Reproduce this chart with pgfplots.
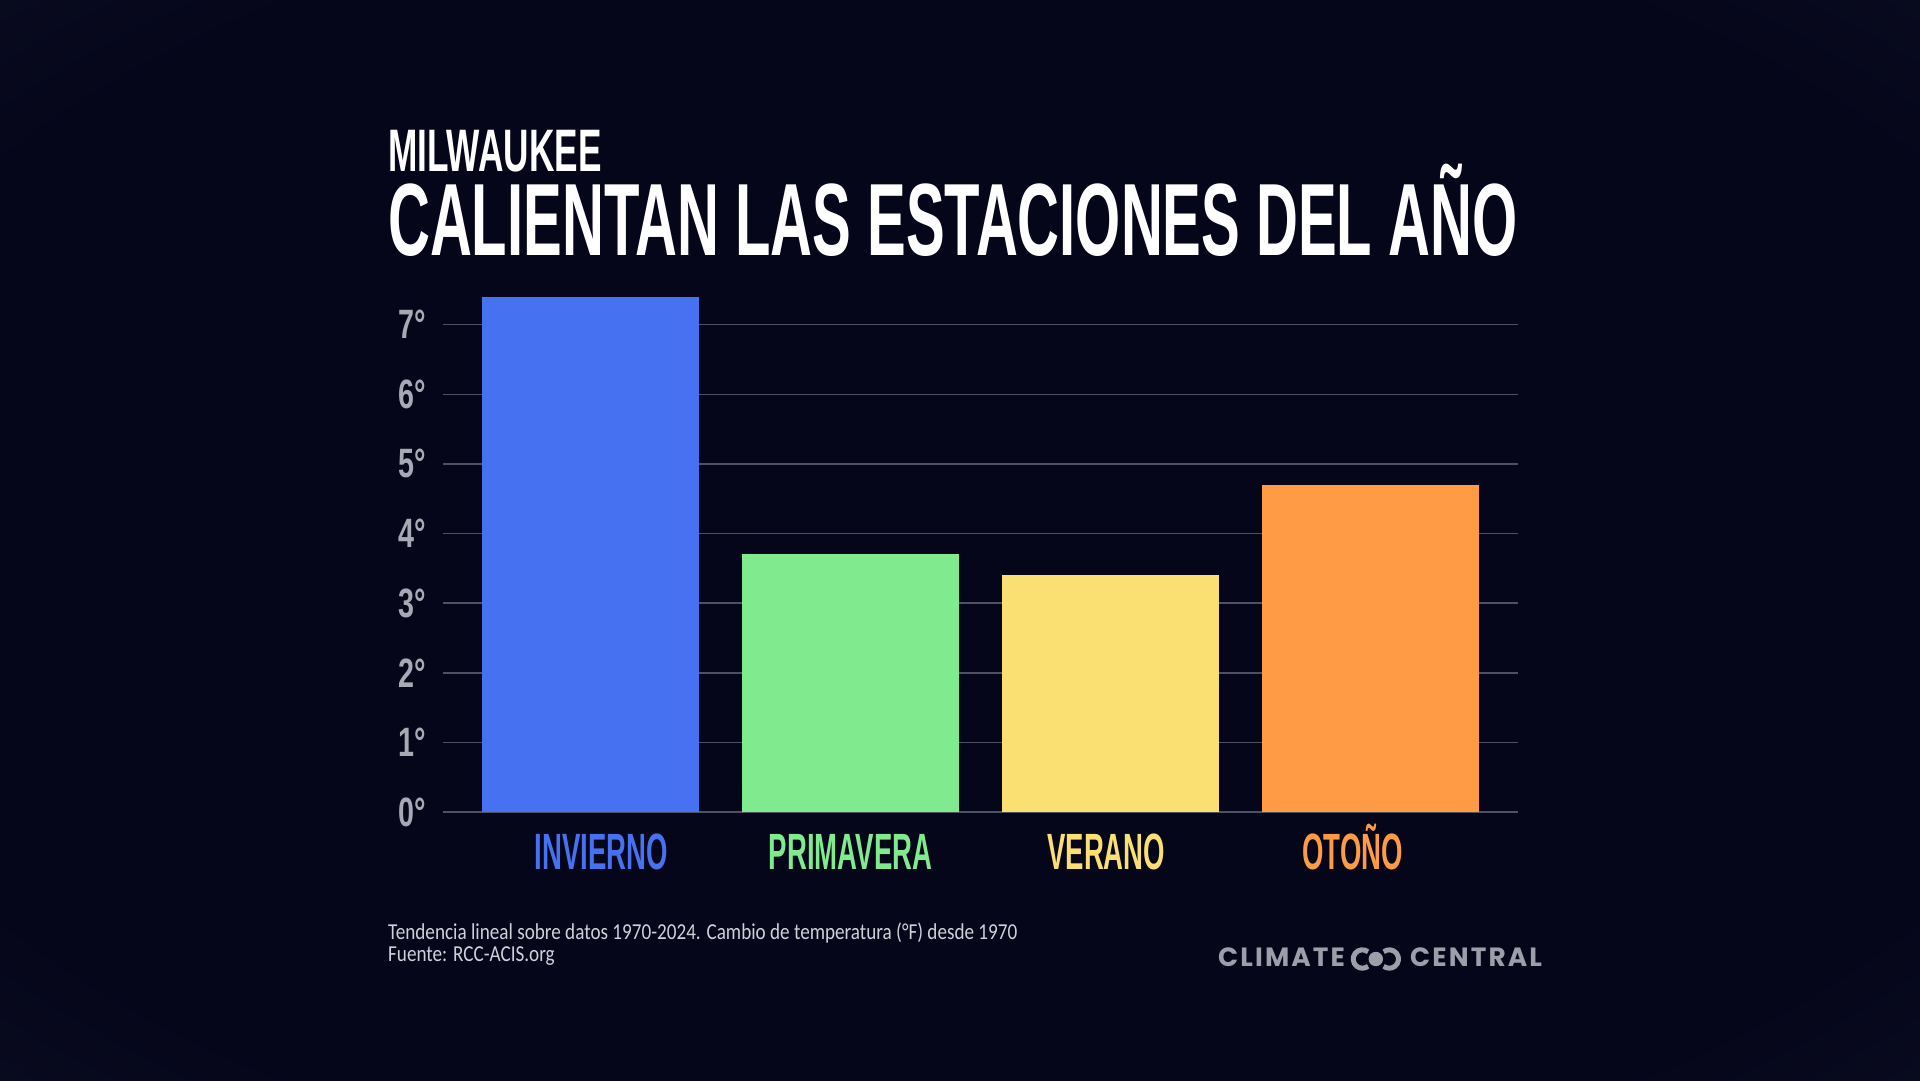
\documentclass[border=0pt]{standalone}
\usepackage{fontspec}
\usepackage{pgfplots}
\pgfplotsset{compat=1.18}

% Condensed display faces for headline, ticks and categories
\newfontfamily\titlefont[FakeStretch=0.565]{Liberation Sans}
\newfontfamily\cityfont[FakeStretch=0.587]{Liberation Sans}
\newfontfamily\tickfont[FakeStretch=0.70]{Liberation Sans}
\newfontfamily\catfont[FakeStretch=0.54]{Liberation Sans}
\newfontfamily\notefont[FakeStretch=0.84]{Carlito}
\newfontfamily\logofont[LetterSpace=8]{Poppins}

\definecolor{bgin}{HTML}{05061A}
\definecolor{bgout}{HTML}{181B30}
\definecolor{inv}{HTML}{4672F2}
\definecolor{prim}{HTML}{80EA8E}
\definecolor{ver}{HTML}{FADF73}
\definecolor{oto}{HTML}{FF9B45}
\definecolor{tickgray}{HTML}{A7A9B4}
\definecolor{gridgray}{HTML}{4E5162}
\definecolor{notegray}{HTML}{CFD1D8}
\definecolor{logogray}{HTML}{9C9EA9}

\pgfdeclareradialshading{vignette}{\pgfpoint{0bp}{0bp}}{%
  color(0bp)=(bgin); color(30bp)=(bgin); color(58bp)=(bgout); color(72bp)=(bgout)}

\begin{document}
\begin{tikzpicture}[x=1pt,y=1pt]
  % background
  \shade[shading=vignette] (0,0) rectangle (1920,1080);

  % headline
  \node[anchor=base west, inner sep=0, text=white,
        font=\cityfont\bfseries\fontsize{60}{60}\selectfont]
        at (388,908.6) {MILWAUKEE};
  \node[anchor=base west, inner sep=0, text=white,
        font=\titlefont\bfseries\fontsize{102.7}{102.7}\selectfont]
        at (388,824) {CALIENTAN LAS ESTACIONES DEL AÑO};

  \begin{axis}[
      at={(443pt,268pt)}, anchor=south west,
      scale only axis, width=1075pt, height=515.2pt,
      xmin=-0.569, xmax=3.569, ymin=0, ymax=7.4,
      clip=false,
      axis line style={draw=none},
      major tick length=0pt,
      ytick={0,1,2,3,4,5,6,7},
      yticklabels={0°,1°,2°,3°,4°,5°,6°,7°},
      yticklabel style={font=\tickfont\bfseries\fontsize{41}{41}\selectfont,
                        text=tickgray, anchor=east, inner sep=0pt, xshift=-17pt},
      ymajorgrids,
      grid style={gridgray, line width=1.5pt},
      % category names sit slightly off the bar centres
      xtick={0.04,1,1.984,2.932},
      xticklabels={\textcolor{inv}{INVIERNO},\textcolor{prim}{PRIMAVERA},
                   \textcolor{ver}{VERANO},\textcolor{oto}{OTOÑO}},
      xticklabel style={font=\catfont\bfseries\fontsize{51}{51}\selectfont,
                        anchor=base, inner sep=0pt, yshift=-57pt},
      ybar, bar width=216.7pt, bar shift=0pt,
    ]
    \addplot[draw=none, fill=inv]  coordinates {(0,7.4)};
    \addplot[draw=none, fill=prim] coordinates {(1,3.7)};
    \addplot[draw=none, fill=ver]  coordinates {(2,3.4)};
    \addplot[draw=none, fill=oto]  coordinates {(3,4.7)};
  \end{axis}

  % notes
  \node[anchor=base west, inner sep=0, text=notegray,
        font=\notefont\fontsize{22.8}{22.8}\selectfont]
        at (388,141) {Tendencia lineal sobre datos 1970-2024. Cambio de temperatura (°F) desde 1970};
  \node[anchor=base west, inner sep=0, text=notegray,
        font=\notefont\fontsize{22.8}{22.8}\selectfont]
        at (388,119) {Fuente: RCC-ACIS.org};

  % logo
  \node[anchor=base west, inner sep=0, text=logogray,
        font=\logofont\bfseries\fontsize{26.4}{26.4}\selectfont]
        at (1218,113.3) {CLIMATE};
  \node[anchor=base west, inner sep=0, text=logogray,
        font=\logofont\bfseries\fontsize{26.4}{26.4}\selectfont]
        at (1410,113.3) {CENTRAL};
  \draw[logogray, line width=5pt] (1362.4,121) ++(52:9.2) arc[start angle=52, end angle=308, radius=9.2];
  \draw[logogray, line width=5pt] (1389.3,121) ++(128:9.2) arc[start angle=128, end angle=-128, radius=9.2];
  \fill[logogray] (1375.8,121) circle (7.2);
\end{tikzpicture}
\end{document}
